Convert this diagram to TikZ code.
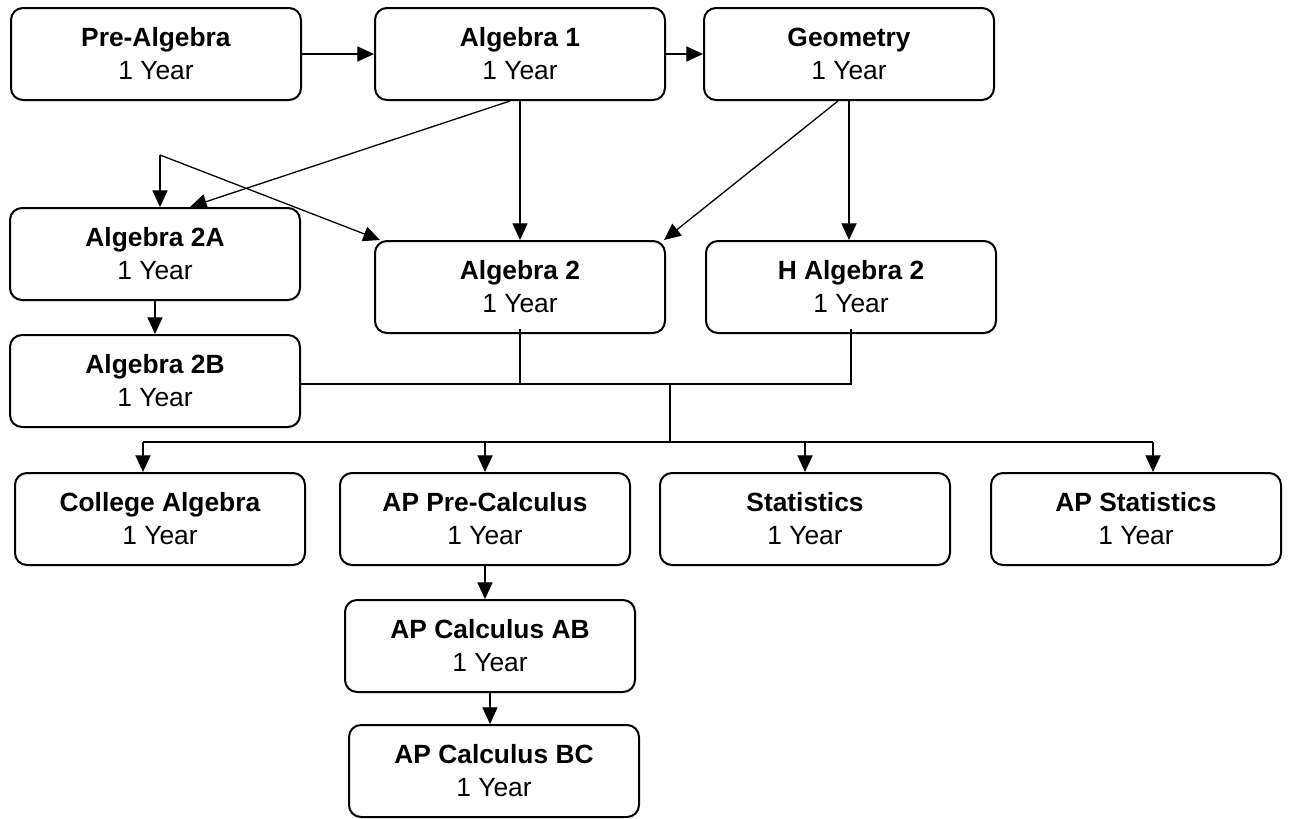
\documentclass[tikz,border=0pt]{standalone}
\usepackage{fontspec}
\setmainfont{Liberation Sans}
\usetikzlibrary{arrows.meta}
\newlength{\du}
\setlength{\du}{0.02cm}

\tikzset{
  course/.style={draw=black, fill=white, line width=2\du, rounded corners=12\du,
    minimum width=290\du, minimum height=92\du, align=center,
    font=\fontsize{15pt}{18.8pt}\selectfont},
  wire/.style={draw=black, line width=1.3\du},
  link/.style={wire, -{Triangle[length=9.5pt,width=8.6pt]}}
}

\begin{document}
\begin{tikzpicture}
\pgftransformxscale{1.000000}
\pgftransformyscale{-1.000000}
\useasboundingbox (0\du,0\du) rectangle (1293\du,818\du);
% courses
\node[course] (prealg) at (156\du,54\du) {\textbf{Pre-Algebra}\\1 Year};
\node[course] (alg1) at (520\du,54\du) {\textbf{Algebra 1}\\1 Year};
\node[course] (geom) at (849\du,54\du) {\textbf{Geometry}\\1 Year};
\node[course] (alg2a) at (155\du,254\du) {\textbf{Algebra 2A}\\1 Year};
\node[course] (alg2) at (520\du,287\du) {\textbf{Algebra 2}\\1 Year};
\node[course] (halg2) at (851\du,287\du) {\textbf{H Algebra 2}\\1 Year};
\node[course] (alg2b) at (155\du,381\du) {\textbf{Algebra 2B}\\1 Year};
\node[course] (collalg) at (160\du,519\du) {\textbf{College Algebra}\\1 Year};
\node[course] (appre) at (485\du,519\du) {\textbf{AP Pre-Calculus}\\1 Year};
\node[course] (stat) at (805\du,519\du) {\textbf{Statistics}\\1 Year};
\node[course] (apstat) at (1136\du,519\du) {\textbf{AP Statistics}\\1 Year};
\node[course] (calcab) at (490\du,646\du) {\textbf{AP Calculus AB}\\1 Year};
\node[course] (calcbc) at (494\du,771\du) {\textbf{AP Calculus BC}\\1 Year};
% top row
\draw[link] (prealg) -- (alg1);
\draw[link] (alg1) -- (geom);
% into algebra 2
\coordinate (fork) at (160\du,155\du);
\draw[link] ([xshift=-10\du]alg1.south) -- ([xshift=35\du]alg2a.north);
\draw[link] (fork) -- (fork |- alg2a.north);
\draw[link] (fork) -- ([xshift=6\du]alg2.north west);
\draw[link] (alg1) -- (alg2);
\draw[link] ([xshift=-11\du]geom.south) -- ([xshift=-2\du]alg2.north east);
\draw[link] (geom.south) -- (geom.south |- halg2.north);
\draw[link] (alg2a) -- (alg2b);
% merge and bus
\coordinate (merge) at (670\du,384\du);
\coordinate (bus) at (670\du,442\du);
\draw[wire] (alg2b.east) ++(0,3\du) -- (merge -| halg2.south) -- ([yshift=-5\du]halg2.south);
\draw[wire] ([yshift=-5\du]alg2.south) -- (alg2.south |- merge);
\draw[wire] (merge) -- (bus);
\foreach \c/\s in {collalg/-17,appre/0,stat/0,apstat/17}{
  \coordinate (\c-in) at ([xshift=\s\du]\c.north);
  \draw[link] (\c-in |- bus) -- (\c-in);
}
\draw[wire] (collalg-in |- bus) -- (apstat-in |- bus);
% calculus
\draw[link] (appre.south) -- (appre.south |- calcab.north);
\draw[link] (calcab.south) -- (calcab.south |- calcbc.north);
\end{tikzpicture}
\end{document}
